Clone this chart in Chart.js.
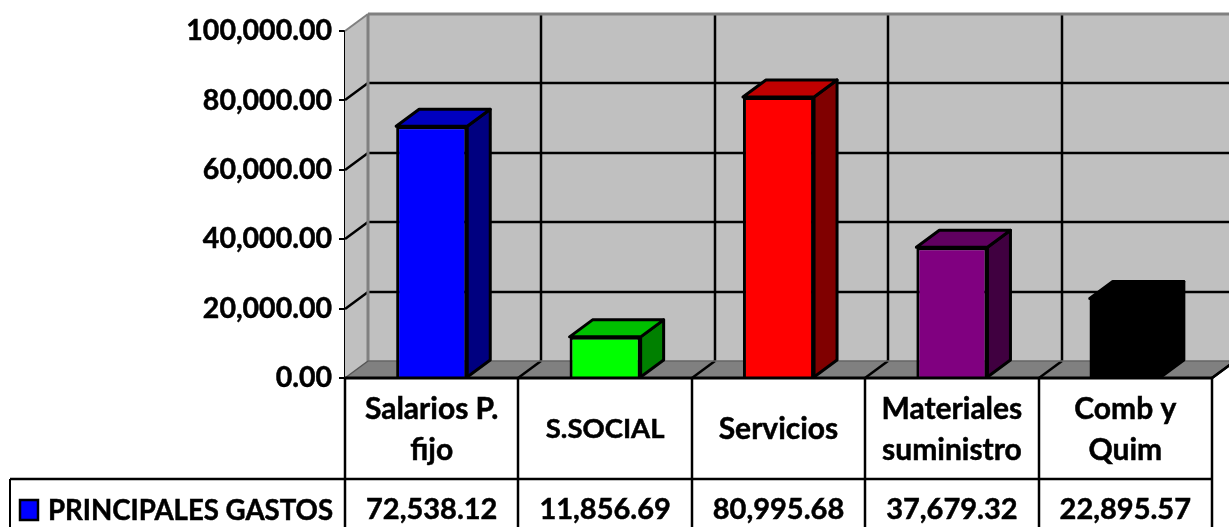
<!DOCTYPE html>
<html>
<head>
<meta charset="utf-8">
<style>
  html, body { margin: 0; padding: 0; background: #fff; overflow: hidden; }
  canvas { display: block; }
</style>
<script src="https://cdn.jsdelivr.net/npm/chart.js@4/dist/chart.umd.min.js"></script>
</head>
<body>
<canvas id="gastos-chart" width="1229" height="527"></canvas>
<script>
const categories = [['Salarios P.', 'fijo'], ['S.SOCIAL'], ['Servicios'], ['Materiales', 'suministro'], ['Comb y', 'Quim']];
const seriesName = 'PRINCIPALES GASTOS';
const gastos = [72538.12, 11856.69, 80995.68, 37679.32, 22895.57];
const frontColors = ['#0000ff', '#00ff00', '#ff0000', '#800080', '#000000'];
const topColors = ['#0000c0', '#00c000', '#c00000', '#600060', '#000000'];
const sideColors = ['#000080', '#008000', '#800000', '#400040', '#000000'];

const DX = 23, DY = 17;
const money = v => v.toLocaleString('en-US', {minimumFractionDigits: 2, maximumFractionDigits: 2});

function poly(ctx, pts, fill, stroke, lw) {
    ctx.beginPath();
    pts.forEach((p, i) => i ? ctx.lineTo(p[0], p[1]) : ctx.moveTo(p[0], p[1]));
    ctx.closePath();
    if (fill) { ctx.fillStyle = fill; ctx.fill(); }
    if (stroke) { ctx.strokeStyle = stroke; ctx.lineWidth = lw; ctx.lineJoin = 'round'; ctx.stroke(); }
}

function line(ctx, x1, y1, x2, y2, color, lw) {
    ctx.beginPath();
    ctx.moveTo(x1, y1);
    ctx.lineTo(x2, y2);
    ctx.strokeStyle = color;
    ctx.lineWidth = lw;
    ctx.stroke();
}

function label(ctx, text, x, y, size) {
    ctx.font = 'bold ' + size + 'px Lato';
    ctx.lineWidth = 0.5;
    ctx.strokeStyle = '#000';
    ctx.fillText(text, x, y);
    ctx.strokeText(text, x, y);
}

// walls and floor of the 3D box, behind the bars
const wallsPlugin = {
    id: 'walls',
    beforeDatasetsDraw(chart) {
        const ctx = chart.ctx, y = chart.scales.y, a = chart.chartArea;
        const step = (a.right - a.left) / categories.length;
        const y0 = y.getPixelForValue(0), yTop = y.getPixelForValue(100000);
        ctx.save();
        poly(ctx, [[a.left + DX, yTop - DY], [1229, yTop - DY], [1229, y0 - DY], [a.left + DX, y0 - DY]], '#c0c0c0');
        poly(ctx, [[a.left, yTop], [a.left + DX, yTop - DY], [a.left + DX, y0 - DY], [a.left, y0]], '#c0c0c0');
        poly(ctx, [[a.left, y0], [a.left + DX, y0 - DY], [1229, y0 - DY], [1229, y0 - (1229 - a.right) * DY / DX], [a.right, y0]], '#808080');

        y.ticks.forEach(t => {
            if (t.value === 0 || t.value === 100000) return;
            const py = Math.round(y.getPixelForValue(t.value));
            line(ctx, a.left, py, a.left + DX, py - DY, '#000', 2.5);
            line(ctx, a.left + DX, py - DY, 1229, py - DY, '#000', 2.5);
        });
        for (let k = 1; k <= categories.length; k++) {
            const px = Math.round(a.left + k * step);
            line(ctx, px + DX, yTop - DY, px + DX, y0 - DY, '#000', 2.5);
            line(ctx, px, y0, px + DX, y0 - DY, '#000', 2.5);
        }
        line(ctx, a.left, yTop, a.left + DX, yTop - DY, '#808080', 2);
        line(ctx, a.left + DX, yTop - DY, 1229, yTop - DY, '#808080', 3);
        line(ctx, a.left + DX, yTop - DY, a.left + DX, y0 - DY, '#808080', 3);
        line(ctx, a.left + DX, y0 - DY, 1229, y0 - DY, '#666', 1.5);
        line(ctx, a.left, y0, a.left + DX, y0 - DY, '#555', 1.5);

        // top and side of every bar, the front face comes from the bar element
        chart.getDatasetMeta(0).data.forEach((bar, i) => {
            const l = bar.x - bar.width / 2, r = bar.x + bar.width / 2;
            poly(ctx, [[r, bar.y], [r + DX, bar.y - DY], [r + DX, bar.base - DY], [r, bar.base]], sideColors[i], '#000', 3);
            poly(ctx, [[l, bar.y], [l + DX, bar.y - DY], [r + DX, bar.y - DY], [r, bar.y]], topColors[i], '#000', 3);
        });
        ctx.restore();
    }
};

// data table under the plot
const tablePlugin = {
    id: 'dataTable',
    afterDraw(chart) {
        const ctx = chart.ctx, x = chart.scales.x, a = chart.chartArea;
        const step = (a.right - a.left) / categories.length;
        const rowLine = 479, bottom = 527;
        ctx.save();
        line(ctx, a.left, a.bottom, a.right, a.bottom, '#000', 3);
        line(ctx, a.right, a.bottom, a.right + DX, a.bottom - DY, '#000', 2.5);
        line(ctx, 10, rowLine, a.right, rowLine, '#000', 2.5);
        line(ctx, 10, rowLine, 10, bottom, '#000', 2);
        for (let k = 0; k <= categories.length; k++) {
            const px = Math.round(a.left + k * step);
            line(ctx, px, a.bottom, px, bottom, '#000', 2.5);
        }
        ctx.fillStyle = '#000';
        ctx.textAlign = 'center';
        ctx.textBaseline = 'middle';
        categories.forEach((lines, i) => {
            const px = x.getPixelForValue(i);
            lines.forEach((t, j) => {
                // capitals run wide in this font
                const size = t === t.toUpperCase() ? 27.5 : 30;
                label(ctx, t, px, 429.5 + (j - (lines.length - 1) / 2) * 41, size);
            });
            label(ctx, money(gastos[i]), px, 509.5, 29);
        });
        ctx.textAlign = 'left';
        label(ctx, seriesName, 48, 511, 27.6);
        ctx.fillStyle = '#0000ff';
        ctx.fillRect(20, 500, 18, 20);
        ctx.strokeStyle = '#000';
        ctx.lineWidth = 2.5;
        ctx.strokeRect(20, 500, 18, 20);
        ctx.restore();
    }
};

new Chart(document.querySelector('#gastos-chart').getContext('2d'), {
    type: 'bar',
    data: {
        labels: categories,
        datasets: [{
            label: seriesName,
            data: gastos,
            backgroundColor: frontColors,
            borderColor: '#000',
            borderWidth: [3, 3, 3, 3, 0],
            categoryPercentage: 1,
            barPercentage: 0.41
        }]
    },
    plugins: [wallsPlugin, tablePlugin],
    options: {
        responsive: false,
        animation: false,
        layout: {padding: {top: 31, right: 17, left: 0, bottom: 0}},
        plugins: {legend: {display: false}, tooltip: {enabled: false}},
        scales: {
            x: {
                ticks: {display: false},
                grid: {display: false},
                border: {display: false},
                afterFit: scale => { scale.height = 149; }
            },
            y: {
                min: 0,
                max: 100000,
                ticks: {
                    stepSize: 20000,
                    padding: 7,
                    color: '#000',
                    textStrokeColor: '#000',
                    textStrokeWidth: 0.5,
                    font: {family: 'Lato', weight: 'bold', size: 28.5},
                    callback: v => money(v)
                },
                grid: {drawOnChartArea: false, color: '#000', lineWidth: 2, tickLength: 6},
                border: {color: '#000', width: 2},
                afterFit: scale => { scale.width = 345; }
            }
        }
    }
});
</script>
</body>
</html>
